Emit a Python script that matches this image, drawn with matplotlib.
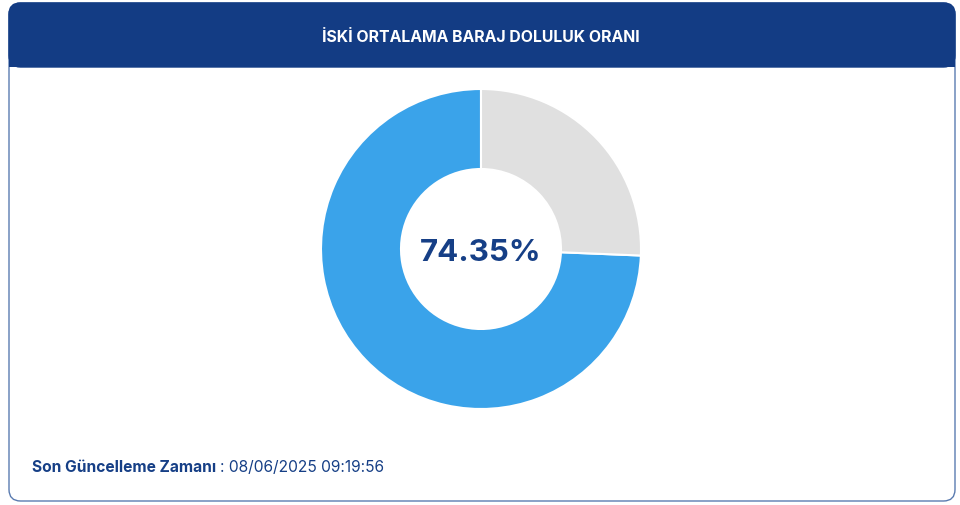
import matplotlib
matplotlib.use("Agg")
import matplotlib.pyplot as plt
from matplotlib.patches import FancyBboxPatch, Rectangle

title = "İSKİ ORTALAMA BARAJ DOLULUK ORANI"
labels = ["Dolu", "Boş"]
values = [74.35, 25.65]
colors = ["#3aa3ea", "#e0e0e0"]
center_label = "74.35%"
update_label = "Son Güncelleme Zamanı"
update_value = "08/06/2025 09:19:56"

FONT = ["Inter", "DejaVu Sans"]
W, H = 960, 506
fig = plt.figure(figsize=(W / 100, H / 100), dpi=100)
fig.patch.set_facecolor("white")

def fx(px):
    return px / W

def fy(py):
    return 1 - py / H

navy = "#133c84"
card = FancyBboxPatch((fx(9), fy(502)), fx(955) - fx(9), fy(4) - fy(502),
                      boxstyle="round,pad=0,rounding_size=0.012",
                      transform=fig.transFigure, facecolor="white",
                      edgecolor="#5a7bb0", linewidth=1.0, zorder=0,
                      mutation_aspect=W / H)
fig.patches.append(card)
hdr = FancyBboxPatch((fx(9), fy(68)), fx(955) - fx(9), fy(4) - fy(68),
                     boxstyle="round,pad=0,rounding_size=0.012",
                     transform=fig.transFigure, facecolor=navy,
                     edgecolor=navy, linewidth=1.0, zorder=1,
                     mutation_aspect=W / H)
fig.patches.append(hdr)
fig.patches.append(Rectangle((fx(9), fy(68)), fx(955) - fx(9), fy(40) - fy(68),
                             transform=fig.transFigure, facecolor=navy,
                             edgecolor="none", zorder=1))

fig.text(fx(481), fy(37), title, color="white", fontsize=11.4, fontweight="bold",
         family=FONT, ha="center", va="center", zorder=3)

cx, cy, r = 481, 250, 160
ax = fig.add_axes([fx(cx - r), fy(cy + r), 2 * r / W, 2 * r / H])
ax.set_zorder(5)
ax.patch.set_alpha(0)
ax.pie(values, colors=colors, startangle=90, counterclock=True, radius=1.0,
       wedgeprops=dict(width=0.5, edgecolor="white", linewidth=1.5))
ax.set_xlim(-1.0, 1.0)
ax.set_ylim(-1.0, 1.0)
ax.set_aspect("equal")
ax.axis("off")
ax.text(0, -0.02, center_label, ha="center", va="center", fontsize=22.5,
        fontweight="bold", color="#163f86", family=FONT)

t1 = fig.text(fx(32), fy(468), update_label + " ", color="#163f86", fontsize=11.2,
              fontweight="bold", family=FONT, ha="left", va="center", zorder=3)
fig.canvas.draw()
bb = t1.get_window_extent()
fig.text(bb.x1 / W, fy(468), ": " + update_value, color="#163f86", fontsize=11.2,
         family=FONT, ha="left", va="center", zorder=3)

fig.savefig("out.png", dpi=100, facecolor="white")
